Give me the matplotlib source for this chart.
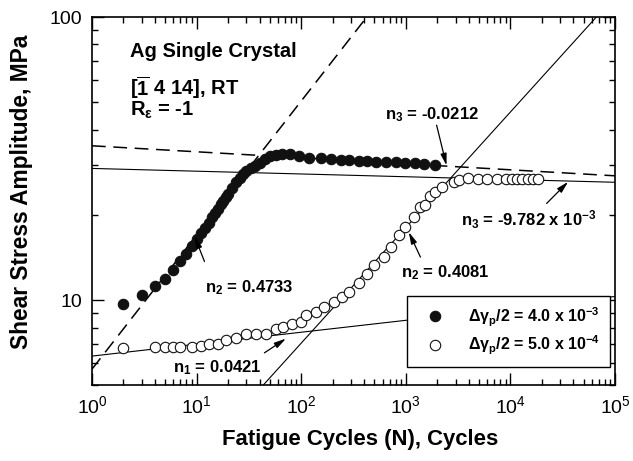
import numpy as np
import matplotlib
matplotlib.use("Agg")
import matplotlib.pyplot as plt
from matplotlib.ticker import LogLocator, NullFormatter, FixedLocator, FixedFormatter

plt.rcParams['font.family'] = ['Liberation Sans', 'DejaVu Sans']
plt.rcParams['mathtext.fontset'] = 'custom'
plt.rcParams['mathtext.rm'] = 'Liberation Sans'
plt.rcParams['mathtext.bf'] = 'Liberation Sans:bold'
plt.rcParams['mathtext.it'] = 'Liberation Sans:italic'

# strain amplitude 4.0e-3 (filled symbols)
n_hi = [2, 3, 4, 5, 6, 7, 8, 9, 10, 11, 12, 13, 14, 15, 16, 17, 18, 19, 20,
        22, 24, 26, 28, 30, 33, 36, 40, 45, 50, 57, 66, 78, 95, 119, 154, 192,
        240, 286, 357, 427, 516, 640, 798, 993, 1236, 1484, 1915]
tau_hi = [9.7, 10.4, 11.2, 11.9, 12.8, 13.8, 14.6, 15.6, 16.4, 17.3, 18.0, 18.8,
          19.6, 20.3, 21.0, 21.8, 22.4, 23.1, 23.8, 25.0, 26.2, 27.0, 27.8, 28.5,
          29.2, 29.7, 30.6, 31.6, 32.2, 32.6, 32.9, 32.8, 32.3, 31.7, 31.7, 31.4,
          31.2, 31.2, 31.1, 31.1, 30.8, 30.8, 30.7, 30.6, 30.6, 30.2, 30.0]

# strain amplitude 5.0e-4 (open symbols)
n_lo = [2, 4, 5, 6, 7, 9, 11, 13, 16, 19, 24, 30, 37, 46, 58, 67, 81, 99, 111,
        138, 166, 206, 247, 286, 357, 428, 496, 617, 715, 857, 993, 1191, 1380,
        1517, 1718, 1918, 2218, 2866, 3199, 3921, 4882, 5946, 7411, 9024, 10290,
        11480, 12820, 14830, 16560, 18480]
tau_lo = [6.78, 6.82, 6.82, 6.82, 6.82, 6.82, 6.88, 6.98, 6.99, 7.22, 7.38, 7.58,
          7.62, 7.58, 7.94, 8.05, 8.23, 8.38, 8.85, 9.09, 9.47, 9.86, 10.27, 10.7,
          11.46, 12.4, 13.3, 14.2, 15.4, 17.0, 18.2, 19.7, 21.3, 21.7, 23.3, 24.1,
          25.1, 26.2, 26.5, 27.0, 26.9, 26.9, 26.8, 26.8, 26.7, 26.7, 26.7, 26.7,
          26.7, 26.7]

# power-law fits tau = A * N^n  (A, n)
fit_hi_n2 = (5.71, 0.4733)
fit_hi_n3 = (35.1, -0.0212)
fit_lo_n1 = (6.35, 0.0421)
fit_lo_n2 = (1.077, 0.4081)
fit_lo_n3 = (29.2, -9.782e-3)

xticks = [1, 10, 100, 1000, 10000, 100000]
xticklabels = [r'$\mathdefault{10^{%d}}$' % i for i in range(6)]
yticks = [10, 100]
yticklabels = ['10', '100']

fig = plt.figure(figsize=(6.33, 4.61), dpi=100)
ax = fig.add_axes([0.1453, 0.1638, 0.8263, 0.7993])

nn = np.logspace(0, 5, 400)
def powerline(fit, **kw):
    a, n = fit
    ax.plot(nn, a * nn ** n, color='k', zorder=2, **kw)

powerline(fit_hi_n2, lw=1.1, dashes=(9, 5))
powerline(fit_hi_n3, lw=1.1, dashes=(9, 5))
powerline(fit_lo_n1, lw=0.8)
powerline(fit_lo_n2, lw=0.8)
powerline(fit_lo_n3, lw=0.8)

ax.plot(n_hi, tau_hi, 'o', ms=7.5, mfc='#111111', mec='#111111', mew=0.8,
        zorder=3, label=r'Δγ$_\mathbf{p}$/2 = 4.0 x 10$^{\mathbf{-3}}$')
ax.plot(n_lo, tau_lo, 'o', ms=7.5, mfc='white', mec='#111111', mew=0.8,
        zorder=3, label=r'Δγ$_\mathbf{p}$/2 = 5.0 x 10$^{\mathbf{-4}}$')

ax.set_xscale('log')
ax.set_yscale('log')
ax.set_xlim(1, 1e5)
ax.set_ylim(5, 100)

ax.xaxis.set_major_locator(FixedLocator(xticks))
ax.xaxis.set_major_formatter(FixedFormatter(xticklabels))
ax.xaxis.set_minor_locator(LogLocator(base=10, subs=np.arange(2, 10), numticks=20))
ax.xaxis.set_minor_formatter(NullFormatter())
ax.yaxis.set_major_locator(FixedLocator(yticks))
ax.yaxis.set_major_formatter(FixedFormatter(yticklabels))
ax.yaxis.set_minor_locator(LogLocator(base=10, subs=np.arange(2, 10), numticks=20))
ax.yaxis.set_minor_formatter(NullFormatter())

ax.tick_params(which='both', direction='in', top=True, right=True, width=1.0)
ax.tick_params(which='major', length=8.5, labelsize=14, pad=7)
ax.tick_params(which='minor', length=4.5)
for s in ax.spines.values():
    s.set_linewidth(1.2)

ax.set_xlabel('Fatigue Cycles (N), Cycles', fontsize=15.9, fontweight='bold', labelpad=11)
ax.set_ylabel('Shear Stress Amplitude, MPa', fontsize=16.4, fontweight='bold', labelpad=9)
ax.xaxis.set_label_coords(0.512, -0.118)
ax.yaxis.set_label_coords(-0.113, 0.525)

bold = dict(fontweight='bold', fontsize=14.5, va='baseline')
ax.text(0.073, 0.892, 'Ag Single Crystal', transform=ax.transAxes, **bold)
ax.text(0.073, 0.788, r'[$\overline{\mathbf{1}}$ 4 14], RT', transform=ax.transAxes, **bold)
ax.text(0.073, 0.733, r'R$_\mathbf{ε}$ = -1', transform=ax.transAxes, **bold)

small = dict(fontweight='bold', fontsize=12, ha='center', va='center')
ax.text(1770, 45.1, r'n$_\mathbf{3}$ = -0.0212', **small)
ax.text(14830, 19.2, r'n$_\mathbf{3}$ = -9.782 x 10$^{\mathbf{-3}}$', **small)
ax.text(2400, 12.5, r'n$_\mathbf{2}$ = 0.4081', **small)
ax.text(32, 11.1, r'n$_\mathbf{2}$ = 0.4733', **small)
ax.text(15.8, 5.8, r'n$_\mathbf{1}$ = 0.0421', **small)

arrow = dict(arrowstyle='-|>,head_length=0.7,head_width=0.18', color='k', lw=0.9,
             shrinkA=0, shrinkB=0)
ax.annotate('', xy=(2450, 29.9), xytext=(1970, 41.5), arrowprops=arrow)
ax.annotate('', xy=(35650, 26.2), xytext=(22200, 21.97), arrowprops=arrow)
ax.annotate('', xy=(1068, 17.4), xytext=(1380, 14.2), arrowprops=arrow)
ax.annotate('', xy=(9.57, 16.8), xytext=(11.9, 13.7), arrowprops=arrow)
ax.annotate('', xy=(71.5, 7.32), xytext=(44.5, 6.52), arrowprops=arrow)

leg = ax.legend(loc='lower right', bbox_to_anchor=(0.99, 0.05), frameon=True,
                fancybox=False, framealpha=1, edgecolor='k',
                prop=dict(weight='bold', size=11.5), handletextpad=1.0,
                borderpad=0.6, labelspacing=0.35, handlelength=2.2, borderaxespad=0)
leg.get_frame().set_linewidth(1.0)
leg.set_zorder(5)

fig.savefig('out.png', dpi=100)
